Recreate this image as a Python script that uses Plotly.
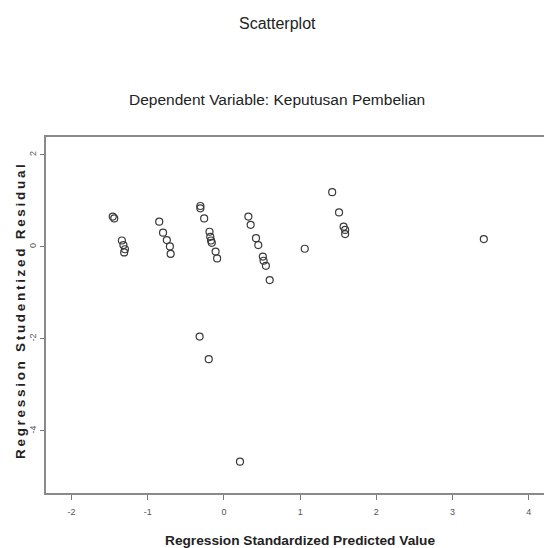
import plotly.graph_objects as go

pred_values = [-1.46, -1.44, -1.34, -1.32, -1.30, -1.31, -0.85, -0.80, -0.75, -0.71, -0.70,
               -0.31, -0.31, -0.26, -0.19, -0.18, -0.17, -0.16, -0.11, -0.09,
               0.32, 0.35, 0.42, 0.45, 0.51, 0.52, 0.55, 0.60, 1.06,
               1.42, 1.51, 1.57, 1.59, 1.59, 3.41, -0.32, -0.20, 0.21]
resid_values = [0.66, 0.62, 0.14, 0.04, -0.05, -0.12, 0.55, 0.31, 0.15, 0.01, -0.15,
                0.89, 0.84, 0.62, 0.33, 0.22, 0.14, 0.09, -0.10, -0.25,
                0.66, 0.48, 0.19, 0.04, -0.21, -0.30, -0.41, -0.72, -0.04,
                1.19, 0.75, 0.44, 0.37, 0.28, 0.17, -1.95, -2.44, -4.67]
x_ticks = [-2, -1, 0, 1, 2, 3, 4]
y_ticks = [-4, -2, 0, 2]

title_text = "Scatterplot"
subtitle_text = "Dependent Variable: Keputusan Pembelian"
x_title = "Regression Standardized Predicted Value"
y_title = "Regression Studentized Residual"


def spaced(s, sep="\u2009"):
    return sep.join(list(s))


W, H = 544, 548
L, R, T, B = 46, 0, 137, 55
pw, ph = W - L - R, H - T - B

fig = go.Figure()
fig.add_trace(go.Scatter(
    x=pred_values, y=resid_values, mode="markers",
    marker=dict(symbol="circle-open", size=7, color="#3a3a3a", line=dict(width=1.2)),
    showlegend=False, hoverinfo="skip"))

font_family = "Liberation Sans, Arial, sans-serif"

fig.update_layout(
    width=W, height=H,
    margin=dict(l=L, r=R, t=T, b=B),
    paper_bgcolor="white", plot_bgcolor="white",
    font=dict(family=font_family, color="#222"),
    xaxis=dict(range=[-2.336, 4.20], tickvals=x_ticks, ticktext=[str(v) for v in x_ticks],
               showgrid=False, zeroline=False, showline=True, linecolor="#8a8a8a", linewidth=2,
               mirror=True, ticks="outside", ticklen=5, tickcolor="#777", tickwidth=1,
               ticklabelstandoff=4,
               tickfont=dict(size=9, color="#555")),
    yaxis=dict(range=[-5.35, 2.39], tickvals=y_ticks, ticktext=[str(v) for v in y_ticks],
               showgrid=False, zeroline=False, showline=True, linecolor="#8a8a8a", linewidth=2,
               mirror=False, ticks="outside", ticklen=4, tickcolor="#777", tickwidth=1,
               tickangle=-90, tickfont=dict(size=9, color="#555")),
    annotations=[
        dict(text=title_text, xref="paper", yref="paper",
             x=(277 - L) / pw, y=(H - B - 23) / ph, xanchor="center", yanchor="middle",
             showarrow=False, font=dict(size=16, color="#222", family=font_family)),
        dict(text=subtitle_text, xref="paper", yref="paper",
             x=(277 - L) / pw, y=(H - B - 100) / ph, xanchor="center", yanchor="middle",
             showarrow=False, font=dict(size=15.5, color="#222", family=font_family)),
        dict(text="<b>" + x_title + "</b>", xref="paper", yref="paper",
             x=(300 - L) / pw, y=(H - B - 540) / ph, xanchor="center", yanchor="middle",
             showarrow=False, font=dict(size=13.7, color="#222", family=font_family)),
        dict(text="<b>" + spaced(y_title) + "</b>", xref="paper", yref="paper",
             x=(20 - L) / pw, y=(H - B - 312) / ph, xanchor="center", yanchor="middle",
             textangle=-90, showarrow=False,
             font=dict(size=13.5, color="#222", family=font_family)),
    ],
)

fig.write_html("out.html", config={"displayModeBar": False},
               post_script="document.body.style.margin='0';document.body.style.overflow='hidden';")
